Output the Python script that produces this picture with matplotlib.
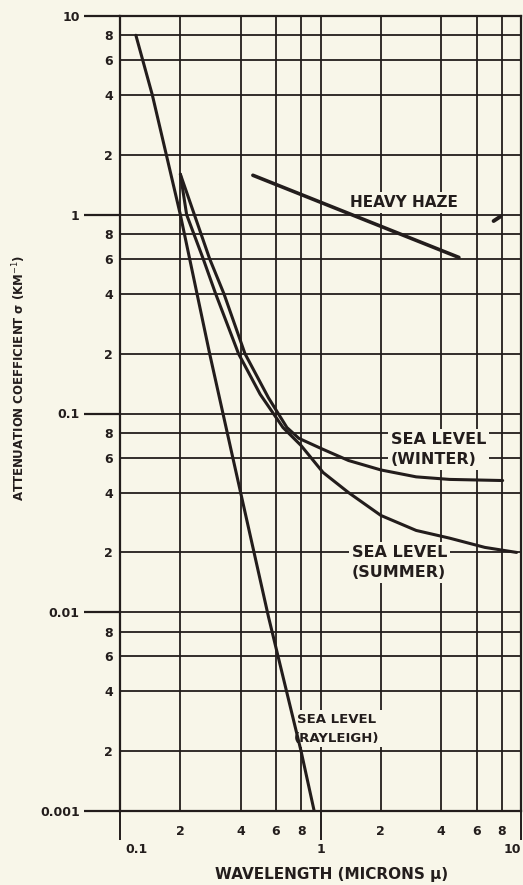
import numpy as np
import matplotlib.pyplot as plt
from matplotlib.transforms import ScaledTranslation

# wavelength (microns) / attenuation coefficient (km^-1)
rayleigh_lam = [0.12, 0.145, 0.2, 0.28, 0.36, 0.55, 0.8, 0.93]
rayleigh_sig = [8.0, 4.0, 1.0, 0.2, 0.064, 0.0095, 0.002, 0.001]

winter_lam = [0.2, 0.235, 0.28, 0.33, 0.42, 0.55, 0.68, 0.78, 1.03, 1.38, 2.0, 3.0, 4.4, 8.1]
winter_sig = [1.6, 1.0, 0.6, 0.4, 0.2, 0.12, 0.085, 0.075, 0.066, 0.058, 0.052, 0.048, 0.0466, 0.046]

summer_lam = [0.2, 0.215, 0.26, 0.3, 0.39, 0.5, 0.65, 0.8, 1.03, 1.38, 2.0, 3.0, 4.4, 6.6, 9.5]
summer_sig = [1.6, 1.0, 0.6, 0.4, 0.2, 0.125, 0.085, 0.069, 0.0505, 0.04, 0.0307, 0.0258, 0.0236, 0.0212, 0.020]

haze_lam = [0.46, 4.9]
haze_sig = [1.58, 0.61]
haze_mark_lam = [7.3, 7.9]
haze_mark_sig = [0.93, 0.98]

x_major = [0.1, 1, 10]
x_major_labels = ['0.1', '1', '10']
x_minor = [0.2, 0.4, 0.6, 0.8, 2, 4, 6, 8]
x_minor_labels = ['2', '4', '6', '8'] * 2
y_major = [0.001, 0.01, 0.1, 1, 10]
y_major_labels = ['0.001', '0.01', '0.1', '1', '10']
y_minor = [m * d for d in [0.001, 0.01, 0.1, 1] for m in [2, 4, 6, 8]]
y_minor_labels = ['2', '4', '6', '8'] * 4

PAPER = '#f8f6e9'
INK = '#231d1c'

fig = plt.figure(figsize=(5.23, 8.85), dpi=100, facecolor=PAPER)
ax = fig.add_axes([120 / 523, 74 / 885, 401 / 523, 795 / 885], facecolor=PAPER)
ax.set_xscale('log')
ax.set_yscale('log')
ax.set_xlim(0.1, 10)
ax.set_ylim(0.001, 10)

ax.set_xticks(x_major, x_major_labels)
ax.set_xticks(x_minor, x_minor_labels, minor=True)
ax.set_yticks(y_major, y_major_labels)
ax.set_yticks(y_minor, y_minor_labels, minor=True)

ax.grid(which='both', color=INK, lw=1.3)
for s in ax.spines.values():
    s.set_color(INK)
    s.set_linewidth(1.6)

tick_font = dict(labelsize=9, labelcolor=INK, colors=INK)
ax.tick_params(axis='y', which='major', length=26, width=1.6, pad=3, **tick_font)
ax.tick_params(axis='y', which='minor', length=0, pad=5, **tick_font)
ax.tick_params(axis='x', which='major', length=21, width=1.4, pad=2, **tick_font)
ax.tick_params(axis='x', which='minor', length=0, pad=10, **tick_font)
for lab in ax.get_xticklabels() + ax.get_xticklabels(minor=True) + \
        ax.get_yticklabels() + ax.get_yticklabels(minor=True):
    lab.set_fontweight('bold')

# nudge the end labels of the x axis inside, as on the scan
xl = ax.get_xticklabels()
xl[0].set_transform(xl[0].get_transform() + ScaledTranslation(0.16, 0, fig.dpi_scale_trans))
xl[-1].set_transform(xl[-1].get_transform() + ScaledTranslation(-0.09, 0, fig.dpi_scale_trans))

lw = 2.2
ax.plot(rayleigh_lam, rayleigh_sig, color=INK, lw=lw, solid_capstyle='round', zorder=3)
ax.plot(winter_lam, winter_sig, color=INK, lw=lw, solid_capstyle='round', zorder=3)
ax.plot(summer_lam, summer_sig, color=INK, lw=lw, solid_capstyle='round', zorder=3)
ax.plot(haze_lam, haze_sig, color=INK, lw=lw + 0.4, solid_capstyle='round', zorder=3)
ax.plot(haze_mark_lam, haze_mark_sig, color=INK, lw=lw + 0.6, solid_capstyle='round', zorder=3)

box = dict(facecolor=PAPER, edgecolor='none', pad=2)
lab_kw = dict(color=INK, fontweight='bold', zorder=2.5, bbox=box)
ax.text(2.6, 1.15, 'HEAVY HAZE', ha='center', va='center', fontsize=11, **lab_kw)
ax.text(2.25, 0.066, 'SEA LEVEL\n(WINTER)', ha='left', va='center',
        linespacing=1.45, fontsize=11.5, **lab_kw)
ax.text(2.47, 0.0178, 'SEA LEVEL\n(SUMMER)', ha='center', va='center',
        linespacing=1.45, fontsize=11.5, **lab_kw)
ax.text(1.2, 0.0026, 'SEA LEVEL\n(RAYLEIGH)', ha='center', va='center',
        linespacing=1.6, fontsize=9.5, **lab_kw)

fig.text(332 / 523, 1 - 875 / 885, 'WAVELENGTH (MICRONS \u03bc)', ha='center', va='center',
         fontsize=11, fontweight='bold', color=INK)
fig.text(19 / 523, 1 - 378 / 885, 'ATTENUATION COEFFICIENT \u03c3 (KM$^{-1}$)',
         ha='center', va='center', rotation=90, fontsize=8.5, fontweight='bold', color=INK)

fig.savefig('out.png', dpi=100, facecolor=PAPER)
